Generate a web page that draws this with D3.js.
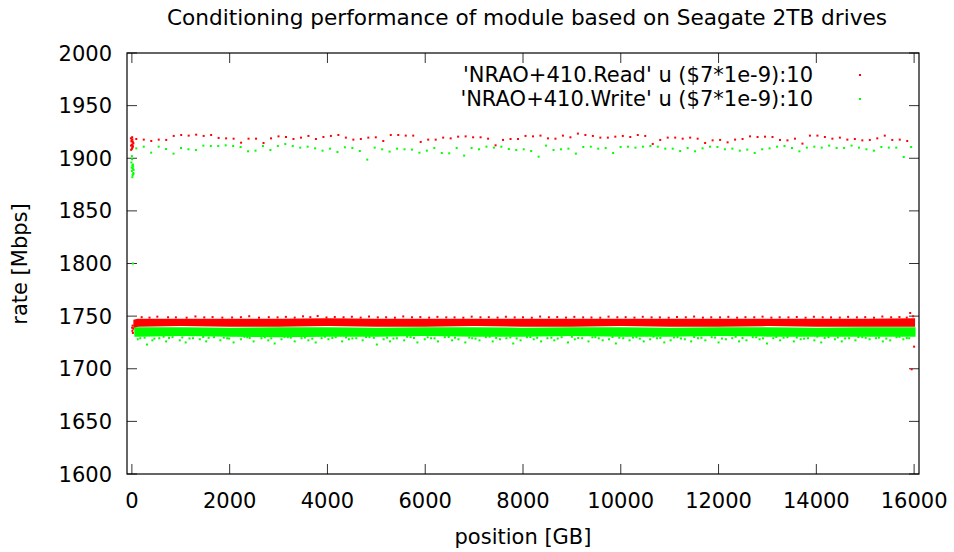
<!DOCTYPE html>
<html><head><meta charset="utf-8">
<script src="https://cdn.jsdelivr.net/npm/d3@7/dist/d3.min.js"></script>
<style>
html,body{margin:0;padding:0;background:#fff;}
text{font-family:"DejaVu Sans",sans-serif;font-size:21px;fill:#000;}
</style></head>
<body><svg id="c" width="954" height="552"></svg>
<script>
// ---------------- data ----------------
const titleText = "Conditioning performance of module based on Seagate 2TB drives";
const xLabel = "position [GB]";
const yLabel = "rate [Mbps]";
const seriesNames = ["'NRAO+410.Read' u ($7*1e-9):10", "'NRAO+410.Write' u ($7*1e-9):10"];
const seriesColors = ["#ff0000", "#00ff00"];
const xTicks = [0, 2000, 4000, 6000, 8000, 10000, 12000, 14000, 16000];
const yTicks = [1600, 1650, 1700, 1750, 1800, 1850, 1900, 1950, 2000];

// sparse upper samples (regular position grid)
const readSparseStart = 90, readSparseStep = 153.1;
const readSparse = [1918.3,
 1917.7,1916.4,1917.7,1917.4,1921.2,1922.1,1921.5,1922.4,1921.2,1922.1,
 1919.3,1918.9,1918.6,1914.8,1918.6,1918.6,1914.5,1918.9,1920.8,1920.2,
 1918.3,1919.6,1921.2,1918.3,1920.2,1921.2,1922.1,1919.6,1917.7,1918.3,
 1919.6,1919.9,1916.4,1922.1,1922.1,1921.5,
 1921.5,1915.5,1917.7,1917.7,1919.6,1918.9,1920.5,1920.8,1919.9,1919.9,
 1918.6,1912.3,1917.4,1918.3,1918.3,1921.2,1920.8,1921.5,1918.9,1918.6,
 1921.5,1919.9,1923.4,1922.1,1921.2,1919.6,1919.6,1920.5,1921.2,1920.2,
 1922.1,1921.2,1913.6,1917.4,1919.6,1919.6,
 1918.6,1919.6,1918.6,1914.5,1917.0,1917.4,1915.1,1917.7,1918.3,1920.8,
 1920.2,1920.5,1920.2,1917.4,1917.0,1918.6,1913.9,1921.5,1921.5,1920.2,
 1918.6,1919.6,1917.7,1918.3,1917.0,1917.4,1918.9,1921.5,1917.4,1917.7,1916.4];
const writeSparseStart = 90, writeSparseStep = 152.4;
const writeSparse = [
 1909.4,1911.0,1905.3,1911.0,1908.8,1904.4,1909.7,1908.5,1907.8,1912.0,
 1911.6,1911.6,1912.3,1911.6,1910.7,1906.6,1907.2,1911.6,1907.8,1911.6,
 1913.5,1911.6,1910.1,1911.0,1909.4,1907.2,1909.1,1905.9,1910.4,1909.7,
 1906.9,1898.7,1910.1,1908.5,1906.3,1909.1,1908.5,
 1908.2,1905.3,1907.2,1909.7,1905.0,1904.7,1909.7,1902.5,1909.7,1908.5,
 1911.0,1910.1,1911.0,1908.8,1907.8,1908.5,1906.9,1901.5,1912.0,1907.8,
 1908.5,1909.1,1904.4,1910.7,1911.0,1909.1,1909.7,1905.0,1910.7,1911.0,
 1910.1,1911.0,1911.6,1911.0,1909.1,1909.1,1906.9,
 1909.7,1906.6,1909.4,1911.0,1910.7,1908.5,1909.1,1907.2,1908.2,1905.0,
 1908.5,1909.4,1911.0,1911.6,1909.7,1906.6,1910.1,1911.0,1910.1,1912.0,
 1909.7,1909.7,1912.0,1910.1,1908.5,1907.2,1910.7,1910.1,1910.1,1901.2,1910.7];

// start-of-disk clusters and isolated points [position, rate]
const readEarly = [[-20,1919],[-10,1916],[0,1913],[10,1918],[20,1911],[-15,1908],[5,1920],[25,1915],
 [15,1912],[-5,1917],[30,1914],[0,1909],[12,1916],[-18,1912],[8,1910],
 [10,1736],[20,1734],[30,1738],[15,1741],[5,1739]];
const writeEarly = [[0,1902],[-10,1896],[10,1893],[20,1890],[0,1888],[30,1886],[15,1884],[25,1892],
 [5,1899],[35,1889],[10,1882],[20,1894],[-5,1891],[30,1885],[20,1800]];
const readLate = [[15920,1753],[15950,1699.5],[16000,1721]];

// dense bulk: envelope of the continuous band
const readBandPos = [30, 120, 1000, 2000, 3000, 4000, 5000, 6000, 7000, 8000, 9000, 10000, 11000, 12000, 13000, 14000, 15000, 16020];
const readBandLo  = [1738, 1740, 1740.5, 1740, 1740, 1740.5, 1740, 1740, 1740.5, 1740, 1740, 1740.5, 1740, 1740, 1740.5, 1740, 1740, 1740];
const readBandHi  = [1746.5, 1747.5, 1747.5, 1747.5, 1747.5, 1748, 1747.5, 1747.5, 1747.5, 1747.5, 1747.5, 1747.5, 1747.5, 1747.5, 1747.5, 1747.5, 1747.5, 1748];
const writeBandPos = [50, 150, 1000, 2000, 3000, 4000, 5000, 6000, 7000, 8000, 9000, 10000, 11000, 12000, 13000, 14000, 15000, 16030];
const writeBandLo  = [1730.5, 1730.5, 1731, 1730.5, 1730, 1730.5, 1730.5, 1731, 1730.5, 1730.5, 1731, 1730.5, 1730.5, 1731, 1730.5, 1730.5, 1730.5, 1730.5];
const writeBandHi  = [1739.5, 1739.5, 1739.5, 1739, 1739.5, 1739.5, 1739, 1739.5, 1739.5, 1739, 1739.5, 1739.5, 1739, 1739.5, 1739.5, 1739, 1739.5, 1739.5];

// band edge speckles [position, rate]
const readTopSpeckle = [[200,1749],[520,1749.5],[900,1748.8],[1300,1749.7],[1650,1749.1],[2050,1748.7],[2400,1749.9],
 [2800,1749],[3150,1749.3],[3500,1749.8],[3800,1750.1],[4150,1749.2],[4500,1749.4],[4850,1749.6],[5200,1748.9],
 [5550,1749.7],[5900,1749.1],[6250,1749.3],[6600,1748.8],[6950,1749.5],[7300,1749],[7650,1749.4],[8000,1748.9],
 [8350,1749.6],[8700,1749.1],[9050,1749.3],[9400,1748.7],[9750,1749.5],[10100,1749],[10450,1749.4],[10800,1748.8],
 [11150,1749.2],[11500,1749.6],[11850,1748.9],[12200,1749.3],[12550,1749],[12900,1749.5],[13250,1748.9],
 [13600,1749.2],[13950,1749.4],[14300,1748.8],[14650,1749.3],[15000,1749],[15350,1749.6],[15700,1749.1],[15980,1749.9],
 [360,1748.6],[740,1748.9],[1120,1748.5],[1480,1748.8],[1850,1748.6],[2230,1749],[2600,1748.5],[2980,1748.8],
 [3330,1748.6],[3650,1749],[3980,1748.7],[4330,1748.9],[4680,1748.6],[5030,1748.8],[5380,1748.5],[5730,1748.9],
 [6080,1748.6],[6430,1748.8],[6780,1748.5],[7130,1748.9],[7480,1748.6],[7830,1748.8],[8180,1748.5],[8530,1748.9],
 [8880,1748.6],[9230,1748.8],[9580,1748.5],[9930,1748.9],[10280,1748.6],[10630,1748.8],[10980,1748.5],[11330,1748.9],
 [11680,1748.6],[12030,1748.8],[12380,1748.5],[12730,1748.9],[13080,1748.6],[13430,1748.8],[13780,1748.5],
 [14130,1748.9],[14480,1748.6],[14830,1748.8],[15180,1748.5],[15530,1748.9],[15850,1748.6]];
const writeLowSpeckle = [[120,1728],[310,1723],[420,1727],[560,1729],[700,1726],[830,1730],[980,1727],[1100,1725],
 [1250,1729],[1390,1728],[1520,1726],[1680,1730],[1810,1727],[1950,1729],[2080,1725],[2230,1728],[2360,1730],
 [2490,1726],[2650,1729],[2790,1727],[2920,1724],[3060,1728],[3190,1730],[3330,1726],[3470,1729],[3610,1727],
 [3760,1725],[3880,1729],[4020,1728],[4170,1730],[4300,1726],[4440,1728],[4590,1729],[4720,1727],[4860,1730],
 [5010,1723],[5150,1728],[5280,1726],[5420,1729],[5570,1727],[5700,1730],[5840,1725],[5990,1728],[6120,1729],
 [6260,1726],[6400,1730],[6550,1727],[6680,1728],[6820,1725],[6960,1729],[7110,1727],[7240,1730],[7380,1726],
 [7530,1728],[7660,1729],[7800,1724],[7950,1727],[8080,1730],[8220,1728],[8370,1726],[8500,1729],[8640,1727],
 [8790,1730],[8920,1725],[9060,1728],[9210,1729],[9340,1726],[9480,1730],[9630,1727],[9760,1728],[9900,1724],
 [10050,1729],[10180,1727],[10320,1730],[10470,1726],[10600,1728],[10740,1729],[10890,1725],[11020,1727],
 [11160,1730],[11310,1728],[11440,1726],[11580,1729],[11730,1727],[11860,1730],[12000,1725],[12150,1728],
 [12280,1729],[12420,1726],[12570,1727],[12700,1730],[12840,1728],[12990,1724],[13120,1729],[13260,1727],
 [13410,1730],[13540,1726],[13680,1728],[13830,1729],[13960,1727],[14100,1725],[14250,1730],[14380,1728],
 [14520,1726],[14670,1729],[14800,1727],[14940,1730],[15090,1728],[15220,1729],[15360,1726],[15510,1727],
 [15640,1730],[15780,1728],[15900,1729],
 [260,1729.5],[650,1730.5],[1030,1729.8],[1460,1730.2],[1880,1729.6],[2300,1730.4],[2720,1729.9],[3120,1730.3],
 [3540,1729.7],[3950,1730.5],[4380,1729.8],[4790,1730.1],[5220,1729.5],[5630,1730.4],[6050,1729.9],[6480,1730.2],
 [6900,1729.6],[7320,1730.5],[7740,1729.8],[8150,1730.1],[8580,1729.5],[9000,1730.4],[9420,1729.9],[9830,1730.2],
 [10250,1729.7],[10670,1730.5],[11090,1729.8],[11500,1730.1],[11930,1729.6],[12350,1730.4],[12770,1729.9],
 [13180,1730.2],[13600,1729.7],[14020,1730.5],[14440,1729.8],[14860,1730.1],[15280,1729.6],[15700,1730.3],
 [170,1729],[460,1728.6],[760,1729.3],[1180,1728.8],[1570,1729.4],[1990,1728.7],[2410,1729.2],[2850,1728.9],
 [3250,1729.5],[3690,1728.6],[4100,1729.3],[4510,1728.8],[4950,1729.4],[5350,1728.7],[5770,1729.2],[6190,1728.9],
 [6610,1729.5],[7030,1728.6],[7450,1729.3],[7870,1728.8],[8290,1729.4],[8710,1728.7],[9130,1729.2],[9550,1728.9],
 [9970,1729.5],[10390,1728.6],[10810,1729.3],[11230,1728.8],[11650,1729.4],[12070,1728.7],[12490,1729.2],
 [12910,1728.9],[13330,1729.5],[13750,1728.6],[14170,1729.3],[14590,1728.8],[15010,1729.4],[15430,1728.7],[15850,1729.2]];

// ---------------- chart ----------------
const svg = d3.select("#c");
const L = 127, R = 919, T = 53, B = 474;
const x = d3.scaleLinear().domain([-100, 16100]).range([L, R]);
const y = d3.scaleLinear().domain([1600, 2000]).range([B, T]);

// ticks (inward, mirrored)
const tk = svg.append("g").attr("stroke", "#333").attr("stroke-width", 1);
xTicks.forEach(t => {
  tk.append("line").attr("x1", x(t)).attr("x2", x(t)).attr("y1", B).attr("y2", B - 10);
  tk.append("line").attr("x1", x(t)).attr("x2", x(t)).attr("y1", T).attr("y2", T + 10);
});
yTicks.forEach(t => {
  tk.append("line").attr("x1", L).attr("x2", L + 10).attr("y1", y(t)).attr("y2", y(t));
  tk.append("line").attr("x1", R).attr("x2", R - 10).attr("y1", y(t)).attr("y2", y(t));
});

const plot = svg.append("g");
const dot = (g, pts, col) => g.selectAll(null).data(pts).enter().append("rect")
  .attr("x", d => x(d[0]) - 1).attr("y", d => y(d[1]) - 1)
  .attr("width", 2).attr("height", 2).attr("fill", col);

function bandArea(pos, lo, hi) {
  return d3.area().x((d, i) => x(pos[i])).y0((d, i) => y(lo[i])).y1((d, i) => y(hi[i]))(pos);
}

// Read series
const gR = plot.append("g");
gR.append("path").attr("d", bandArea(readBandPos, readBandLo, readBandHi)).attr("fill", seriesColors[0]);
dot(gR, readTopSpeckle, seriesColors[0]);
dot(gR, readSparse.map((v, i) => [readSparseStart + i * readSparseStep, v]), seriesColors[0]);
dot(gR, readEarly, seriesColors[0]);
dot(gR, readLate, seriesColors[0]);

// Write series
const gW = plot.append("g");
gW.append("path").attr("d", bandArea(writeBandPos, writeBandLo, writeBandHi)).attr("fill", seriesColors[1]);
dot(gW, writeLowSpeckle, seriesColors[1]);
dot(gW, writeSparse.map((v, i) => [writeSparseStart + i * writeSparseStep, v]), seriesColors[1]);
dot(gW, writeEarly, seriesColors[1]);

// border
svg.append("rect").attr("x", L).attr("y", T).attr("width", R - L).attr("height", B - T)
  .attr("fill", "none").attr("stroke", "#000").attr("stroke-width", 1.2);

// tick labels
svg.append("g").selectAll("text").data(xTicks).enter().append("text")
  .attr("x", d => x(d)).attr("y", 508).attr("text-anchor", "middle").text(d => d);
svg.append("g").selectAll("text").data(yTicks).enter().append("text")
  .attr("x", 112).attr("y", d => y(d) + 7.5).attr("text-anchor", "end").text(d => d);

// titles
svg.append("text").attr("x", 527).attr("y", 25).attr("text-anchor", "middle").style("font-size", "21.6px").text(titleText);
svg.append("text").attr("x", 523).attr("y", 544).attr("text-anchor", "middle").text(xLabel);
svg.append("text").attr("transform", "translate(27,264) rotate(-90)").attr("text-anchor", "middle").text(yLabel);

// legend
seriesNames.forEach((n, i) => {
  svg.append("text").attr("x", 813).attr("y", 82 + i * 24).attr("text-anchor", "end").text(n);
  svg.append("rect").attr("x", 859).attr("y", 74 + i * 24).attr("width", 2).attr("height", 2).attr("fill", seriesColors[i]);
});
</script></body></html>
